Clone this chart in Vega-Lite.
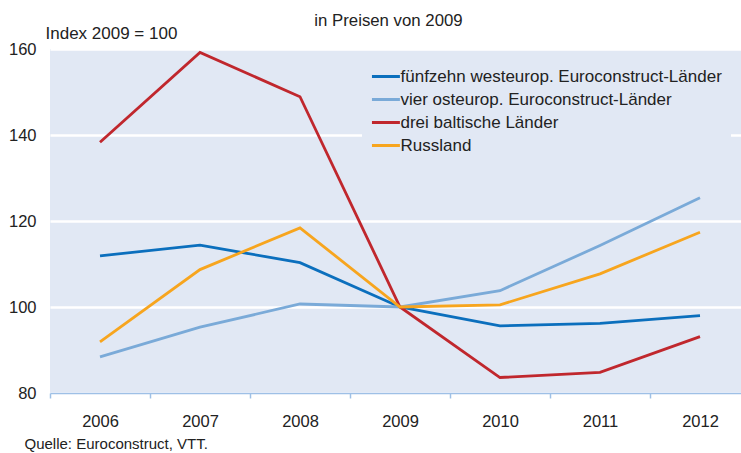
{
  "$schema": "https://vega.github.io/schema/vega-lite/v6.json",
  "width": 691,
  "height": 344,
  "autosize": {"type": "none"},
  "padding": {"left": 50, "top": 49, "right": 0, "bottom": 60},
  "background": "white",
  "config": {
    "font": "Liberation Sans",
    "view": {"fill": "#e1e8f4", "stroke": null}
  },
  "title": {
    "text": "in Preisen von 2009",
    "fontSize": 16.8,
    "fontWeight": "normal",
    "color": "#222222",
    "anchor": "middle",
    "frame": "group",
    "dx": -7,
    "baseline": "alphabetic",
    "offset": 4,
    "dy": 23
  },
  "data": {
    "values": [
      {"series": "fünfzehn westeurop. Euroconstruct-Länder", "year": "2006", "value": 111.9},
      {"series": "fünfzehn westeurop. Euroconstruct-Länder", "year": "2007", "value": 114.4},
      {"series": "fünfzehn westeurop. Euroconstruct-Länder", "year": "2008", "value": 110.3},
      {"series": "fünfzehn westeurop. Euroconstruct-Länder", "year": "2009", "value": 100},
      {"series": "fünfzehn westeurop. Euroconstruct-Länder", "year": "2010", "value": 95.6},
      {"series": "fünfzehn westeurop. Euroconstruct-Länder", "year": "2011", "value": 96.2},
      {"series": "fünfzehn westeurop. Euroconstruct-Länder", "year": "2012", "value": 98.0},
      {"series": "vier osteurop. Euroconstruct-Länder", "year": "2006", "value": 88.4},
      {"series": "vier osteurop. Euroconstruct-Länder", "year": "2007", "value": 95.3},
      {"series": "vier osteurop. Euroconstruct-Länder", "year": "2008", "value": 100.7},
      {"series": "vier osteurop. Euroconstruct-Länder", "year": "2009", "value": 100},
      {"series": "vier osteurop. Euroconstruct-Länder", "year": "2010", "value": 103.8},
      {"series": "vier osteurop. Euroconstruct-Länder", "year": "2011", "value": 114.3},
      {"series": "vier osteurop. Euroconstruct-Länder", "year": "2012", "value": 125.4},
      {"series": "drei baltische Länder", "year": "2006", "value": 138.3},
      {"series": "drei baltische Länder", "year": "2007", "value": 159.2},
      {"series": "drei baltische Länder", "year": "2008", "value": 148.9},
      {"series": "drei baltische Länder", "year": "2009", "value": 100},
      {"series": "drei baltische Länder", "year": "2010", "value": 83.6},
      {"series": "drei baltische Länder", "year": "2011", "value": 84.8},
      {"series": "drei baltische Länder", "year": "2012", "value": 93.1},
      {"series": "Russland", "year": "2006", "value": 91.9},
      {"series": "Russland", "year": "2007", "value": 108.7},
      {"series": "Russland", "year": "2008", "value": 118.4},
      {"series": "Russland", "year": "2009", "value": 100},
      {"series": "Russland", "year": "2010", "value": 100.5},
      {"series": "Russland", "year": "2011", "value": 107.7},
      {"series": "Russland", "year": "2012", "value": 117.4}
    ]
  },
  "mark": {"type": "line", "strokeWidth": 2.8, "clip": false},
  "encoding": {
    "x": {
      "field": "year",
      "type": "ordinal",
      "bandPosition": 0.5,
      "scale": {"type": "band", "paddingInner": 0, "paddingOuter": 0, "range": [0, 700]},
      "axis": {
        "title": "Quelle: Euroconstruct, VTT.",
        "titleFontSize": 15,
        "titleFontWeight": "normal",
        "titleColor": "#222222",
        "titleAnchor": "start",
        "titleAlign": "left",
        "titleBaseline": "alphabetic",
        "titleX": -26,
        "titleY": 55,
        "labelAngle": 0,
        "labelFontSize": 16.5,
        "labelColor": "#222222",
        "labelPadding": 15,
        "domainColor": "#9ec0e6",
        "domainWidth": 1.5,
        "tickColor": "#9ec0e6",
        "tickWidth": 1.5,
        "tickSize": 5,
        "tickBand": "extent",
        "grid": false
      }
    },
    "y": {
      "field": "value",
      "type": "quantitative",
      "scale": {"domain": [80, 160], "nice": false, "zero": false},
      "axis": {
        "values": [80, 100, 120, 140, 160],
        "title": "Index 2009 = 100",
        "titleAngle": 0,
        "titleAlign": "left",
        "titleAnchor": "start",
        "titleBaseline": "alphabetic",
        "titleX": -5,
        "titleY": -11,
        "titleFontSize": 17,
        "titleFontWeight": "normal",
        "titleColor": "#222222",
        "labelFontSize": 16.5,
        "labelColor": "#222222",
        "labelPadding": 14,
        "ticks": false,
        "domain": false,
        "grid": true,
        "gridColor": "#ffffff",
        "gridWidth": 2.5
      }
    },
    "color": {
      "field": "series",
      "type": "nominal",
      "sort": null,
      "scale": {
        "domain": ["fünfzehn westeurop. Euroconstruct-Länder", "vier osteurop. Euroconstruct-Länder", "drei baltische Länder", "Russland"],
        "range": ["#0b6fbd", "#7aaad8", "#c0272d", "#f7a51e"]
      },
      "legend": {
        "title": null,
        "orient": "none",
        "legendX": 312,
        "legendY": 10,
        "padding": 9,
        "fillColor": "#e1e8f4",
        "strokeColor": null,
        "symbolType": "M-1.35,0H3.65",
        "symbolSize": 125,
        "symbolStrokeWidth": 3,
        "labelFontSize": 17,
        "labelColor": "#222222",
        "labelOffset": 12.5,
        "rowPadding": 5,
        "labelLimit": 500
      }
    }
  }
}
